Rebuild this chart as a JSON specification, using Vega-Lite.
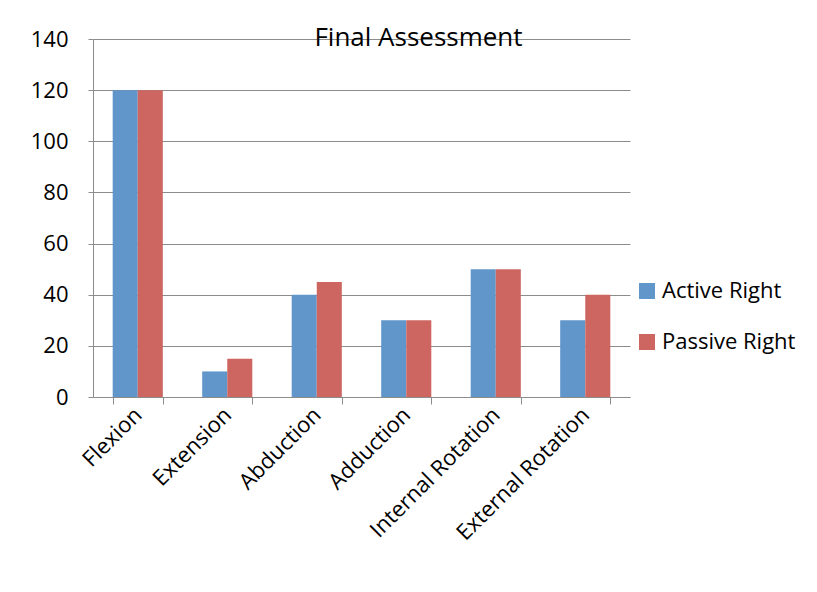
{
  "$schema": "https://vega.github.io/schema/vega-lite/v6.json",
  "width": 537,
  "height": 358,
  "autosize": "none",
  "padding": {"left": 93, "top": 39, "right": 187, "bottom": 195},
  "background": "white",
  "title": {
    "text": "Final Assessment",
    "font": "Open Sans",
    "fontSize": 26,
    "fontWeight": "normal",
    "color": "black",
    "anchor": "middle",
    "frame": "group",
    "dx": 57,
    "offset": -23
  },
  "data": {
    "values": [
      {"movement": "Flexion", "series": "Active Right", "value": 120},
      {"movement": "Flexion", "series": "Passive Right", "value": 120},
      {"movement": "Extension", "series": "Active Right", "value": 10},
      {"movement": "Extension", "series": "Passive Right", "value": 15},
      {"movement": "Abduction", "series": "Active Right", "value": 40},
      {"movement": "Abduction", "series": "Passive Right", "value": 45},
      {"movement": "Adduction", "series": "Active Right", "value": 30},
      {"movement": "Adduction", "series": "Passive Right", "value": 30},
      {"movement": "Internal Rotation", "series": "Active Right", "value": 50},
      {"movement": "Internal Rotation", "series": "Passive Right", "value": 50},
      {"movement": "External Rotation", "series": "Active Right", "value": 30},
      {"movement": "External Rotation", "series": "Passive Right", "value": 40}
    ]
  },
  "mark": {"type": "bar"},
  "encoding": {
    "x": {
      "field": "movement",
      "type": "nominal",
      "sort": null,
      "title": null,
      "scale": {"paddingInner": 0.44, "paddingOuter": 0.22},
      "axis": {
        "labelAngle": -45,
        "labelAlign": "right",
        "labelBaseline": "middle",
        "labelFont": "Open Sans",
        "labelFontSize": 22,
        "labelColor": "black",
        "labelPadding": 7,
        "tickBand": "extent",
        "tickSize": 7,
        "tickColor": "#8c8c8c",
        "domainColor": "#8c8c8c",
        "grid": false
      }
    },
    "xOffset": {"field": "series", "type": "nominal"},
    "y": {
      "field": "value",
      "type": "quantitative",
      "title": null,
      "scale": {"domain": [0, 140], "nice": false},
      "axis": {
        "values": [0, 20, 40, 60, 80, 100, 120, 140],
        "labelFont": "Open Sans",
        "labelFontSize": 22,
        "labelColor": "black",
        "labelPadding": 20,
        "tickSize": 5,
        "tickColor": "#8c8c8c",
        "domainColor": "#8c8c8c",
        "gridColor": "#8c8c8c",
        "grid": true
      }
    },
    "color": {
      "field": "series",
      "type": "nominal",
      "title": null,
      "scale": {"domain": ["Active Right", "Passive Right"], "range": ["#6096CA", "#CD6661"]},
      "legend": {
        "orient": "none",
        "legendX": 543,
        "legendY": 241,
        "symbolType": "square",
        "symbolSize": 256,
        "symbolStrokeWidth": 0,
        "labelFont": "Open Sans",
        "labelFontSize": 22,
        "labelColor": "black",
        "labelOffset": 4,
        "rowPadding": 29
      }
    }
  },
  "config": {
    "view": {"stroke": null}
  }
}
